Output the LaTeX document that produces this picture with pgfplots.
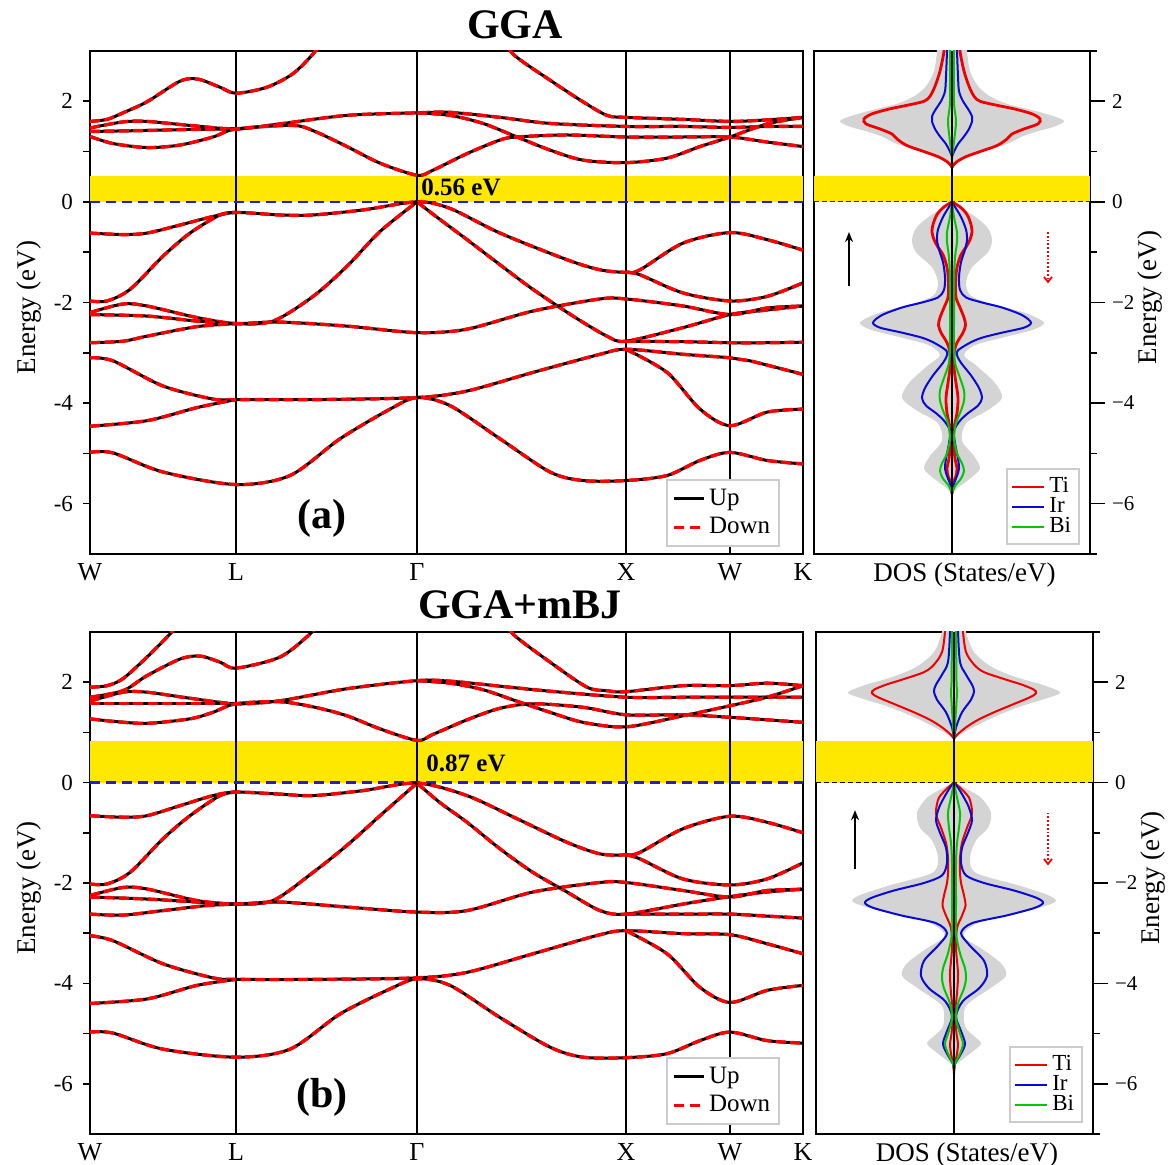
\documentclass[border=0pt]{standalone}
\usepackage{fontspec}
\setmainfont{Liberation Serif}
\usepackage{pgfplots}
\pgfplotsset{compat=1.18}
\usepackage{pgfplotstable}
\usetikzlibrary{arrows.meta}

\definecolor{yel}{RGB}{255,232,0}
\definecolor{dosgray}{RGB}{212,212,212}
\definecolor{tiR}{RGB}{240,0,0}
\definecolor{irB}{RGB}{10,10,215}
\definecolor{biG}{RGB}{0,200,0}
\definecolor{fermi}{RGB}{30,30,210}

% ---------- DOS data, GGA ----------
\pgfplotstableread{
E d
3.2 9
3.0 8
2.6 12
2.3 17
2.1 22
2.0 28
1.92 45
1.85 62
1.75 80
1.65 88
1.55 86
1.45 72
1.35 60
1.25 55
1.12 45
1.0 28
0.9 14
0.8 5
0.72 1
0.68 0
}\tiAt
\pgfplotstableread{
E d
0 0
-0.1 8
-0.25 15
-0.45 19
-0.6 20
-0.75 18
-0.9 14
-1.05 9
-1.3 5
-1.6 3.5
-1.9 4
-2.1 8
-2.3 12
-2.45 13.5
-2.6 11
-2.8 5
-3.0 2
-3.3 2
-3.6 4
-3.9 6
-4.2 5
-4.5 2
-4.8 1.5
-5.1 3
-5.3 5
-5.45 4
-5.6 1
-5.8 0
}\tiBt
\pgfplotstableread{
E d
3.2 5
3.0 5
2.5 6
2.2 7
2.0 11
1.85 16
1.7 20
1.6 20
1.45 17
1.3 12
1.15 6
1.0 2
0.9 0
}\irAt
\pgfplotstableread{
E d
0 0
-0.1 3
-0.3 9
-0.55 14
-0.75 15
-0.95 13
-1.2 9
-1.5 7
-1.75 8
-1.9 14
-2.0 30
-2.1 50
-2.25 70
-2.4 79
-2.5 72
-2.6 50
-2.7 30
-2.8 18
-2.95 6
-3.05 5
-3.2 9
-3.45 19
-3.7 27
-3.9 30
-4.05 26
-4.2 16
-4.35 8
-4.55 2
-4.8 3
-5.1 6
-5.3 7
-5.45 5
-5.6 2
-5.75 0
}\irBt
\pgfplotstableread{
E d
3.2 2
3.0 2
2.0 2
1.6 4
1.2 2
0.9 0
}\biAt
\pgfplotstableread{
E d
0 0
-0.3 2
-0.6 5
-0.8 5
-1.1 3
-1.5 2
-2.0 2
-2.4 2
-2.8 2
-3.2 3
-3.5 8
-3.75 12
-3.95 12
-4.15 9
-4.4 4
-4.7 2
-5.0 5
-5.2 10
-5.35 12
-5.5 9
-5.65 3
-5.8 0
}\biBt
\pgfplotstableread{
E d
3.2 0
3.2 15
3.0 15
2.6 18
2.3 26
2.1 38
1.95 55
1.8 85
1.68 105
1.6 112
1.5 103
1.4 85
1.3 70
1.15 55
1.0 28
0.85 8
0.7 0
}\gAt
\pgfplotstableread{
E d
0 0
-0.1 6
-0.25 20
-0.5 35
-0.75 40
-1.0 36
-1.3 20
-1.6 14
-1.85 18
-2.0 35
-2.2 72
-2.4 92
-2.55 80
-2.7 50
-2.85 23
-3.05 12
-3.25 24
-3.6 43
-3.9 50
-4.15 35
-4.4 14
-4.75 10
-5.05 22
-5.3 28
-5.5 18
-5.7 5
-5.85 0
}\gBt

% ---------- DOS data, GGA+mBJ ----------
\pgfplotstableread{
E d
3.2 9
3.0 9
2.6 12
2.35 20
2.2 30
2.05 52
1.95 68
1.85 80
1.78 82
1.7 76
1.55 58
1.4 40
1.25 24
1.1 12
0.95 3
0.87 0
}\tiAb
\pgfplotstableread{
E d
0 0
-0.1 6
-0.3 15
-0.55 18
-0.7 17
-0.9 13
-1.2 8
-1.5 6
-1.8 6
-2.0 7
-2.25 10
-2.45 11.5
-2.65 8
-2.9 3
-3.3 2
-3.8 4
-4.2 3
-4.6 1
-5.0 2.5
-5.2 4
-5.4 3
-5.6 1
-5.8 0
}\tiBb
\pgfplotstableread{
E d
3.2 4
3.0 4
2.4 6
2.15 12
1.95 18
1.82 20
1.65 17
1.4 8
1.1 2
0.87 0
}\irAb
\pgfplotstableread{
E d
0 0
-0.1 4
-0.3 10
-0.5 15
-0.75 18
-1.0 14
-1.3 8
-1.6 7
-1.85 12
-2.0 30
-2.15 60
-2.3 83
-2.4 89
-2.5 80
-2.65 52
-2.8 18
-3.0 7
-3.25 16
-3.55 30
-3.85 33
-4.1 25
-4.35 9
-4.65 2
-4.95 7
-5.2 11
-5.4 7
-5.6 1
-5.7 0
}\irBb
\pgfplotstableread{
E d
3.2 2
3.0 2
2.0 2.5
1.8 3
1.3 1.5
0.87 0
}\biAb
\pgfplotstableread{
E d
0 0
-0.3 3
-0.6 6
-0.9 5
-1.2 3
-1.6 2
-2.4 2
-3.0 2
-3.4 6
-3.7 11
-3.9 12
-4.1 10
-4.4 4
-4.7 2
-5.0 6
-5.2 9
-5.4 6
-5.6 1
-5.7 0
}\biBb
\pgfplotstableread{
E d
3.2 0
3.2 12
3.0 12
2.6 20
2.3 38
2.1 62
1.95 88
1.8 106
1.7 96
1.5 64
1.25 34
1.0 10
0.87 0
}\gAb
\pgfplotstableread{
E d
0 0
-0.1 10
-0.3 27
-0.6 37
-0.9 34
-1.15 22
-1.5 16
-1.8 22
-2.05 65
-2.25 95
-2.38 101
-2.55 75
-2.75 30
-2.95 12
-3.1 11
-3.3 27
-3.6 47
-3.85 52
-4.1 36
-4.45 12
-4.85 11
-5.05 20
-5.2 27
-5.4 16
-5.6 3
-5.7 0
}\gBb

\newcommand{\band}[1]{%
  \addplot[black, line width=1.5pt, smooth, tension=0.5, forget plot] coordinates {#1};
  \addplot[red, line width=1.7pt, smooth, tension=0.5, dash pattern=on 5pt off 2.2pt, forget plot] coordinates {#1};
}
\newcommand{\dosline}[2]{%
  \addplot[#1, smooth, forget plot] table[x expr=-\thisrow{d}, y=E] {#2};
  \addplot[#1, smooth, forget plot] table[x=d, y=E] {#2};
}
\newcommand{\dosfill}[1]{%
  \addplot[fill=dosgray, draw=none, smooth, forget plot] table[x expr=-\thisrow{d}, y=E] {#1} -- cycle;
  \addplot[fill=dosgray, draw=none, smooth, forget plot] table[x=d, y=E] {#1} -- cycle;
}

\pgfplotsset{
  bandaxis/.style={
    scale only axis, width=356.5pt,
    xmin=0, xmax=713, ymin=-7, ymax=3,
    xtick={0,146,327,536,640,713},
    xticklabels={W,L,Γ,X,W,K},
    x tick style={draw=none},
    ytick={-6,-4,-2,0,2}, minor y tick num=1,
    ytick pos=left, tick align=outside,
    major tick length=3.5pt, minor tick length=3.5pt,
    /pgf/number format/assume math mode=true,
    yticklabel style={font=\fontsize{11.5}{13}\selectfont, xshift=-1.5pt},
    xticklabel style={font=\fontsize{13}{15}\selectfont, yshift=2.5pt},
    ylabel={Energy (eV)},
    every axis y label/.style={at={(axis description cs:-0.085,0.49)}, rotate=90, anchor=center, font=\fontsize{13.5}{15}\selectfont},
    axis line style={line width=1pt},
    every tick/.style={black, line width=0.8pt},
    legend image code/.code={\draw[##1] (0pt,0pt) -- (15pt,0pt);},
    legend style={draw=black!20, line width=1pt, fill=white,
      font=\fontsize{12.5}{14}\selectfont, inner sep=2.5pt, row sep=0.5pt},
    legend cell align=left,
  },
  dosaxis/.style={
    scale only axis, width=138pt,
    xmin=-138, xmax=138, ymin=-7, ymax=3,
    xtick=\empty,
    ytick={-6,-4,-2,0,2}, yticklabels={−6,−4,−2,0,2},
    minor ytick={-7,-5,-3,-1,1,3},
    ytick pos=right, yticklabel pos=right, tick align=outside,
    major tick length=7.5pt, minor tick length=3.5pt,
    yticklabel style={font=\fontsize{10.5}{12}\selectfont},
    ylabel={Energy (eV)},
    every axis y label/.style={at={(axis description cs:1.217,0.51)}, rotate=90, anchor=center, font=\fontsize{13.5}{15}\selectfont},
    xlabel={DOS (States/eV)},
    every axis x label/.style={at={(axis description cs:0.545,0)}, anchor=north, yshift=-1pt, font=\fontsize{13.5}{15}\selectfont},
    axis line style={line width=1pt},
    every tick/.style={black, line width=0.8pt},
    legend image code/.code={\draw[##1] (0pt,0pt) -- (16pt,0pt);},
    legend style={draw=black!20, line width=1pt, fill=white,
      font=\fontsize{11.5}{12}\selectfont, inner sep=2pt, row sep=-3pt},
    legend cell align=left,
  },
}

\begin{document}
\begin{tikzpicture}
\useasboundingbox (0pt,0pt) rectangle (586.5pt,582.5pt);

% ================= GGA band structure =================
\begin{axis}[bandaxis, at={(45pt,305.5pt)}, anchor=south west, height=251.5pt,
  legend style={at={(0.968,0.014)}, anchor=south east}]
\fill[yel] (axis cs:0,0) rectangle (axis cs:713,0.52);
\foreach \xx in {146,327,536,640} {\edef\tmp{\noexpand\draw[black, line width=1pt] (axis cs:\xx,-7) -- (axis cs:\xx,3);}\tmp}
\draw[fermi, line width=1.2pt, dash pattern=on 5pt off 3pt] (axis cs:0,0) -- (axis cs:713,0);
% conduction
\band{(0,1.60) (17,1.64) (33,1.77) (57,1.99) (90,2.40) (108,2.44) (130,2.28) (146,2.16) (177,2.28) (203,2.55) (223,2.94) (232,3.2)}
\band{(415,3.3) (423,2.94) (460,2.42) (493,1.99) (517,1.72) (536,1.68) (593,1.64) (640,1.60) (677,1.63) (713,1.68)}
\band{(0,1.47) (33,1.59) (57,1.60) (100,1.52) (146,1.45) (190,1.55) (257,1.72) (327,1.77) (360,1.78) (410,1.68) (460,1.56) (536,1.50) (593,1.50) (640,1.48) (677,1.50) (713,1.50)}
\band{(0,1.40) (57,1.42) (100,1.44) (146,1.45)}
\band{(0,1.30) (23,1.16) (57,1.08) (90,1.13) (123,1.29) (146,1.45) (203,1.52) (225,1.40) (257,1.10) (290,0.77) (327,0.53) (343,0.63) (377,0.96) (410,1.23) (427,1.29) (477,1.33) (536,1.29) (593,1.29) (640,1.29) (677,1.19) (713,1.10)}
\band{(327,1.77) (360,1.72) (393,1.56) (427,1.29) (460,1.03) (493,0.83) (536,0.78) (577,0.87) (610,1.10) (640,1.29) (677,1.55) (713,1.68)}
% valence
\band{(0,-0.62) (33,-0.65) (57,-0.62) (90,-0.46) (123,-0.29) (146,-0.21) (190,-0.26) (223,-0.26) (273,-0.16) (327,0) (360,-0.13) (410,-0.62) (477,-1.15) (510,-1.35) (536,-1.40) (550,-1.35) (593,-0.82) (640,-0.61) (677,-0.75) (713,-0.96)}
\band{(0,-1.97) (17,-1.97) (40,-1.74) (73,-1.08) (100,-0.62) (130,-0.26) (146,-0.21)}
\band{(327,0) (350,-0.35) (377,-0.75) (410,-1.25) (443,-1.74) (483,-2.27) (517,-2.67) (536,-2.77) (593,-2.50) (640,-2.24) (677,-2.15) (713,-2.07)}
\band{(0,-2.20) (33,-2.03) (57,-2.07) (107,-2.30) (146,-2.42) (183,-2.37) (223,-1.88) (257,-1.28) (290,-0.59) (327,0)}
\band{(536,-1.40) (550,-1.45) (593,-1.81) (640,-1.97) (677,-1.88) (713,-1.61)}
\band{(0,-2.24) (57,-2.27) (107,-2.37) (146,-2.42) (190,-2.39) (257,-2.47) (327,-2.60) (377,-2.53) (443,-2.17) (510,-1.93) (536,-1.93) (593,-2.07) (640,-2.24) (677,-2.11) (713,-2.07)}
\band{(0,-2.80) (33,-2.77) (57,-2.67) (107,-2.48) (146,-2.42)}
\band{(536,-2.77) (593,-2.78) (640,-2.80) (677,-2.80) (713,-2.79)}
\band{(0,-3.10) (23,-3.16) (73,-3.66) (123,-3.92) (146,-3.93) (230,-3.93) (327,-3.89) (377,-3.76) (443,-3.39) (510,-3.03) (536,-2.93) (593,-3.03) (640,-3.10) (660,-3.16) (713,-3.43)}
\band{(0,-4.46) (57,-4.35) (107,-4.09) (146,-3.93)}
\band{(536,-2.93) (577,-3.39) (610,-4.12) (640,-4.45) (677,-4.18) (713,-4.12)}
\band{(0,-4.98) (23,-4.99) (73,-5.37) (146,-5.62) (200,-5.44) (250,-4.71) (300,-4.12) (327,-3.89) (360,-4.05) (410,-4.71) (460,-5.37) (493,-5.54) (536,-5.54) (577,-5.44) (610,-5.14) (640,-4.98) (677,-5.14) (713,-5.21)}
\node[anchor=west, inner sep=0pt, font=\bfseries\fontsize{12.5}{14}\selectfont] at (axis cs:331,0.29) {0.56 eV};
\node[font=\bfseries\fontsize{21}{23}\selectfont] at (axis cs:232,-6.3) {(a)};
\addlegendimage{black, line width=1.5pt}
\addlegendentry{Up}
\addlegendimage{red, line width=1.5pt, dash pattern=on 5pt off 3pt}
\addlegendentry{Down}
\end{axis}

% ================= GGA DOS =================
\begin{axis}[dosaxis, at={(407pt,305.5pt)}, anchor=south west, height=251.5pt,
  legend style={at={(0.964,0.018)}, anchor=south east}]
\fill[yel] (axis cs:-138,0) rectangle (axis cs:138,0.52);
\dosfill{\gAt}
\dosfill{\gBt}
\draw[fermi, line width=0.6pt, dash pattern=on 2.5pt off 1.5pt] (axis cs:-138,0) -- (axis cs:138,0);
\dosline{tiR, line width=1.4pt}{\tiAt}
\dosline{tiR, line width=1.4pt}{\tiBt}
\dosline{irB, line width=1pt}{\irAt}
\dosline{irB, line width=1pt}{\irBt}
\dosline{biG, line width=1pt}{\biAt}
\dosline{biG, line width=1pt}{\biBt}
\addplot[black, line width=1pt, forget plot] coordinates {(0,-7) (0,3)};
\draw[black, line width=0.8pt, -{Stealth[length=5pt, width=4pt]}] (axis cs:-103,-1.68) -- (axis cs:-103,-0.60);
\draw[red, line width=0.9pt, densely dotted, -{Straight Barb[length=2.5pt, width=4pt]}] (axis cs:96,-0.60) -- (axis cs:96,-1.62);
\addlegendimage{tiR, line width=1pt}
\addlegendentry{Ti}
\addlegendimage{irB, line width=1pt}
\addlegendentry{Ir}
\addlegendimage{biG, line width=1pt}
\addlegendentry{Bi}
\end{axis}

% ================= GGA+mBJ band structure =================
\begin{axis}[bandaxis, at={(45pt,15.5pt)}, anchor=south west, height=251pt,
  legend style={at={(0.968,0.018)}, anchor=south east}]
\fill[yel] (axis cs:0,0) rectangle (axis cs:713,0.82);
\foreach \xx in {146,327,536,640} {\edef\tmp{\noexpand\draw[black, line width=1pt] (axis cs:\xx,-7) -- (axis cs:\xx,3);}\tmp}
\draw[fermi, line width=1.2pt, dash pattern=on 5pt off 3pt] (axis cs:0,0) -- (axis cs:713,0);
% conduction
\band{(0,1.90) (17,1.93) (33,2.07) (57,2.50) (80,2.96) (90,3.2)}
\band{(0,1.70) (33,1.83) (57,2.13) (90,2.46) (110,2.52) (130,2.40) (146,2.28) (190,2.50) (220,2.96) (230,3.2)}
\band{(415,3.3) (423,2.96) (460,2.40) (497,1.90) (517,1.83) (536,1.81) (593,1.93) (640,1.93) (677,1.98) (713,1.93)}
\band{(0,1.62) (33,1.80) (57,1.80) (100,1.68) (146,1.57) (190,1.63) (257,1.87) (327,2.03) (360,2.02) (410,1.92) (460,1.82) (536,1.70) (593,1.70) (640,1.70) (677,1.70) (713,1.70)}
\band{(0,1.57) (57,1.57) (100,1.57) (146,1.57)}
\band{(0,1.27) (23,1.22) (57,1.18) (100,1.27) (123,1.40) (146,1.57) (190,1.61) (225,1.50) (257,1.33) (290,1.07) (327,0.84) (343,0.96) (377,1.25) (410,1.48) (443,1.57) (493,1.50) (536,1.35) (593,1.35) (640,1.30) (677,1.25) (713,1.20)}
\band{(327,2.03) (360,1.98) (393,1.85) (427,1.62) (460,1.40) (493,1.20) (536,1.11) (593,1.33) (640,1.53) (677,1.70) (713,1.93)}
% valence
\band{(0,-0.66) (33,-0.69) (57,-0.66) (90,-0.46) (123,-0.26) (146,-0.19) (190,-0.23) (223,-0.26) (273,-0.16) (327,-0.01) (377,-0.26) (427,-0.72) (477,-1.19) (510,-1.42) (536,-1.44) (550,-1.39) (593,-0.92) (640,-0.67) (677,-0.79) (713,-1.00)}
\band{(0,-2.02) (17,-2.02) (40,-1.79) (73,-1.12) (100,-0.66) (130,-0.26) (146,-0.19)}
\band{(327,-0.01) (350,-0.40) (377,-0.79) (410,-1.32) (443,-1.79) (477,-2.18) (510,-2.55) (536,-2.62) (593,-2.42) (640,-2.27) (677,-2.18) (713,-2.12)}
\band{(0,-2.25) (33,-2.09) (57,-2.12) (107,-2.35) (146,-2.42) (183,-2.35) (223,-1.79) (257,-1.25) (290,-0.66) (327,-0.01)}
\band{(536,-1.44) (550,-1.52) (593,-1.92) (640,-2.04) (677,-1.92) (713,-1.60)}
\band{(0,-2.28) (57,-2.32) (107,-2.38) (146,-2.42) (190,-2.38) (257,-2.48) (327,-2.58) (377,-2.55) (443,-2.18) (510,-1.99) (536,-1.99) (593,-2.15) (640,-2.28) (677,-2.15) (713,-2.13)}
\band{(0,-2.62) (33,-2.64) (73,-2.55) (117,-2.45) (146,-2.42)}
\band{(536,-2.62) (593,-2.62) (640,-2.62) (677,-2.66) (713,-2.70)}
\band{(0,-3.05) (23,-3.15) (73,-3.61) (123,-3.89) (146,-3.92) (230,-3.92) (327,-3.89) (377,-3.78) (443,-3.41) (510,-3.03) (536,-2.95) (593,-3.01) (640,-3.03) (677,-3.21) (713,-3.41)}
\band{(0,-4.40) (57,-4.31) (107,-4.04) (146,-3.92)}
\band{(536,-2.95) (577,-3.41) (610,-4.08) (640,-4.38) (677,-4.14) (713,-4.04)}
\band{(0,-4.97) (23,-4.99) (73,-5.31) (146,-5.47) (200,-5.31) (250,-4.61) (300,-4.11) (327,-3.91) (360,-4.04) (410,-4.68) (460,-5.27) (493,-5.47) (536,-5.48) (577,-5.40) (610,-5.14) (640,-4.97) (677,-5.14) (713,-5.19)}
\node[anchor=west, inner sep=0pt, font=\bfseries\fontsize{12.5}{14}\selectfont] at (axis cs:336,0.38) {0.87 eV};
\node[font=\bfseries\fontsize{21}{23}\selectfont] at (axis cs:232,-6.27) {(b)};
\addlegendimage{black, line width=1.5pt}
\addlegendentry{Up}
\addlegendimage{red, line width=1.5pt, dash pattern=on 5pt off 3pt}
\addlegendentry{Down}
\end{axis}

% ================= GGA+mBJ DOS =================
\begin{axis}[dosaxis, at={(408pt,15.5pt)}, anchor=south west, height=251pt,
  xmin=-138, xmax=139, width=138.5pt,
  legend style={at={(0.964,0.022)}, anchor=south east}]
\fill[yel] (axis cs:-138,0) rectangle (axis cs:139,0.83);
\dosfill{\gAb}
\dosfill{\gBb}
\draw[black, line width=0.6pt, dash pattern=on 2.5pt off 1.5pt] (axis cs:-138,0) -- (axis cs:139,0);
\dosline{tiR, line width=1pt}{\tiAb}
\dosline{tiR, line width=1pt}{\tiBb}
\dosline{irB, line width=1pt}{\irAb}
\dosline{irB, line width=1pt}{\irBb}
\dosline{biG, line width=1pt}{\biAb}
\dosline{biG, line width=1pt}{\biBb}
\addplot[black, line width=1pt, forget plot] coordinates {(0,-7) (0,3)};
\draw[black, line width=0.8pt, -{Stealth[length=5pt, width=4pt]}] (axis cs:-99,-1.72) -- (axis cs:-99,-0.55);
\draw[red, line width=0.9pt, densely dotted, -{Straight Barb[length=2.5pt, width=4pt]}] (axis cs:94,-0.60) -- (axis cs:94,-1.65);
\addlegendimage{tiR, line width=1pt}
\addlegendentry{Ti}
\addlegendimage{irB, line width=1pt}
\addlegendentry{Ir}
\addlegendimage{biG, line width=1pt}
\addlegendentry{Bi}
\end{axis}

\node[font=\bfseries\fontsize{21}{23}\selectfont] at (257.5pt,570pt) {GGA};
\node[font=\bfseries\fontsize{21}{23}\selectfont] at (260pt,280pt) {GGA+mBJ};
\end{tikzpicture}
\end{document}
